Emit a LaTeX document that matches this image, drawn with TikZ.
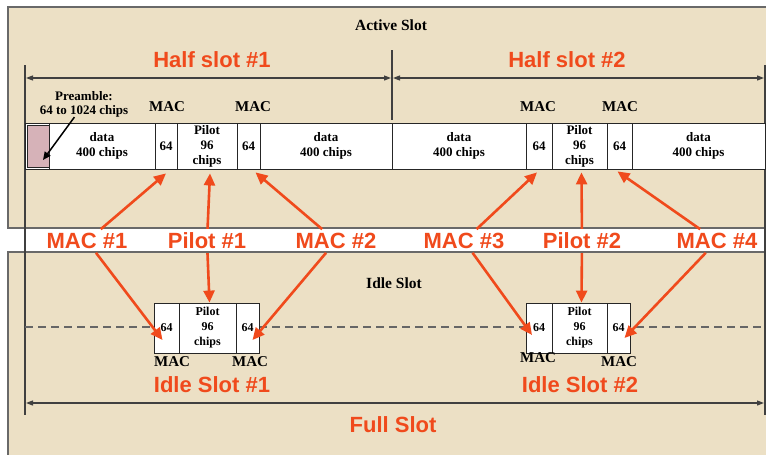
\documentclass[tikz,border=0pt]{standalone}
\usepackage{fontspec}
\setmainfont{Liberation Serif}
\newfontfamily\arialf{Liberation Sans}
\usetikzlibrary{arrows.meta}
\definecolor{parch}{RGB}{236,224,197}
\definecolor{redarr}{RGB}{240,74,28}
\definecolor{pream}{RGB}{214,178,184}
\definecolor{edgegray}{RGB}{105,105,105}
\begin{document}
\begin{tikzpicture}[x=1pt,y=-1pt,
  panel/.style={fill=parch, draw=edgegray, line width=1.4pt},
  seg/.style={draw=black!85, fill=white, line width=0.8pt, minimum height=46pt, inner sep=0pt, align=center, font=\fontsize{13}{15}\selectfont\bfseries},
  iseg/.style={seg, minimum height=50pt, font=\fontsize{12}{15}\selectfont\bfseries},
  redlab/.style={text=redarr, font=\fontsize{22}{24}\selectfont\arialf\bfseries, inner sep=1pt, outer sep=3pt},
  redarrow/.style={draw=redarr, line width=2.6pt, -{Triangle[length=12pt,width=11pt]}},
  dimarrow/.style={draw=black!75, line width=1.2pt, {Triangle[length=7pt,width=5pt]}-{Triangle[length=7pt,width=5pt]}},
  dimline/.style={draw=black!75, line width=1.1pt},
  maclab/.style={font=\fontsize{15}{16}\selectfont\bfseries, inner sep=0pt},
  plain/.style={font=\fontsize{15.5}{18}\selectfont\bfseries, inner sep=0pt},
]
\useasboundingbox (0,0) rectangle (766,455);
\fill[white] (0,0) rectangle (766,455);
% panels
\path[panel] (8,7) rectangle (767,228);
\path[panel] (8,252) rectangle (767,456);

% dimension helper coordinates
\coordinate (vlt) at (25,65);  \coordinate (vlb) at (25,415);
\coordinate (vrt) at (765,65); \coordinate (vrb) at (765,415);
\coordinate (vmt) at (392,50); \coordinate (vmb) at (392,120);
\coordinate (h1a) at (26,78);  \coordinate (h1b) at (391,78);
\coordinate (h2a) at (393,78); \coordinate (h2b) at (764,78);
\coordinate (fa) at (26,403);  \coordinate (fb) at (764,403);
\coordinate (dsa) at (25,327); \coordinate (dsb) at (765,327);

\draw[dimline] (vlt) -- (vlb);
\draw[dimline] (vrt) -- (vrb);
\draw[dimline] (vmt) -- (vmb);
\draw[dimarrow] (h1a) -- (h1b);
\draw[dimarrow] (h2a) -- (h2b);
\draw[dimarrow] (fa) -- (fb);
\draw[draw=black!60, line width=1.1pt, dash pattern=on 8pt off 5pt] (dsa) -- (dsb);

% titles
\node[plain] (act) at (391,25) {Active Slot};
\node[plain] (idl) at (394,283) {Idle Slot};
\node[redlab] (hs1) at (212,60) {Half slot \#1};
\node[redlab] (hs2) at (567,60) {Half slot \#2};
\node[redlab] (is1) at (212,385) {Idle Slot \#1};
\node[redlab] (is2) at (580,385) {Idle Slot \#2};
\node[redlab] (fs) at (393,425) {Full Slot};

% active slot bar
\node[seg, minimum width=740pt] (bar) at (395,146) {};
\node[draw=black!85, fill=pream, line width=1pt, minimum width=22pt, minimum height=42pt, inner sep=0pt] (pre) at (38,146) {};
\node[seg, minimum width=106pt] (d1) at (102,146) {data\\400 chips};
\node[seg, minimum width=22pt] (m1) at (166,146) {64};
\node[seg, minimum width=60pt] (p1) at (207,146) {Pilot\\96\\chips};
\node[seg, minimum width=23pt] (m2) at (248.5,146) {64};
\node[seg, minimum width=132pt] (d2) at (326,146) {data\\400 chips};
\node[seg, minimum width=134pt] (d3) at (459,146) {data\\400 chips};
\node[seg, minimum width=26pt] (m3) at (539,146) {64};
\node[seg, minimum width=55pt] (p2) at (579.5,146) {Pilot\\96\\chips};
\node[seg, minimum width=25pt] (m4) at (619.5,146) {64};
\node[seg, minimum width=133pt] (d4) at (698.5,146) {data\\400 chips};

% preamble label
\node[align=center, inner sep=0pt, font=\fontsize{13}{14}\selectfont\bfseries] (prel) at (84,104) {Preamble:\\64 to 1024 chips};
\draw[black, line width=1.5pt, -{Triangle[length=8pt,width=7pt]}] (prel) -- ([xshift=5pt,yshift=-14pt]pre.center);

% MAC labels above
\node[maclab] (ma1) at (167,107) {MAC};
\node[maclab] (ma2) at (253,107) {MAC};
\node[maclab] (ma3) at (538,107) {MAC};
\node[maclab] (ma4) at (620,107) {MAC};

% idle boxes
\node[iseg, minimum width=25pt] (i1) at (166.5,328) {64};
\node[iseg, minimum width=57pt] (ip1) at (207.5,328) {Pilot\\96\\chips};
\node[iseg, minimum width=23pt] (i2) at (247.5,328) {64};
\node[iseg, minimum width=26pt] (i3) at (539,328) {64};
\node[iseg, minimum width=55pt] (ip2) at (579.5,328) {Pilot\\96\\chips};
\node[iseg, minimum width=23pt] (i4) at (618.5,328) {64};

% MAC labels below
\node[maclab] (mb1) at (172,362) {MAC};
\node[maclab] (mb2) at (250,362) {MAC};
\node[maclab] (mb3) at (538,358) {MAC};
\node[maclab] (mb4) at (619,362) {MAC};

% white band labels
\node[redlab] (mac1) at (87,241) {MAC \#1};
\node[redlab] (pil1) at (207,241) {Pilot \#1};
\node[redlab] (mac2) at (336,241) {MAC \#2};
\node[redlab] (mac3) at (464,241) {MAC \#3};
\node[redlab] (pil2) at (582,241) {Pilot \#2};
\node[redlab] (mac4) at (717,241) {MAC \#4};

% red arrows up
\draw[redarrow] (mac1) -- ([yshift=-4pt]m1.south);
\draw[redarrow] (pil1) -- ([xshift=3pt,yshift=-4pt]p1.south);
\draw[redarrow] (mac2) -- ([xshift=7pt,yshift=-3pt]m2.south);
\draw[redarrow] (mac3) -- ([xshift=-2pt,yshift=-3pt]m3.south);
\draw[redarrow] (pil2) -- ([xshift=2pt,yshift=-3pt]p2.south);
\draw[redarrow] (mac4) -- ([xshift=-2pt,yshift=-2pt]m4.south);

% red arrows down
\draw[redarrow] (mac1) -- ([xshift=-4pt,yshift=-12pt]i1.center);
\draw[redarrow] (pil1) -- ([xshift=2pt]ip1.north);
\draw[redarrow] (mac2) -- ([xshift=5pt,yshift=-12pt]i2.center);
\draw[redarrow] (mac3) -- ([xshift=-7pt,yshift=-7pt]i3.center);
\draw[redarrow] (pil2) -- ([xshift=2pt]ip2.north);
\draw[redarrow] (mac4) -- ([xshift=6pt,yshift=-10pt]i4.center);
\end{tikzpicture}
\end{document}
